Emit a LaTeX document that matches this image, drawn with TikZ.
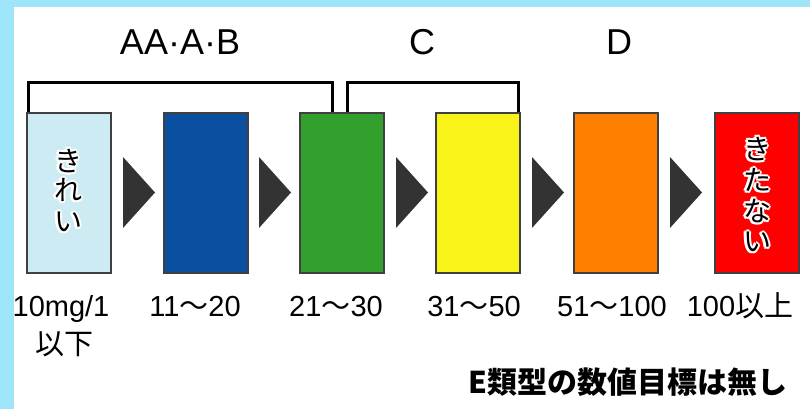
\documentclass[tikz,border=0pt]{standalone}
\usepackage{fontspec}
\setmainfont{Liberation Sans}
\newfontfamily\jp{Noto Sans CJK JP}
\definecolor{bgblue}{HTML}{9FE5FA}
\definecolor{c1}{HTML}{CCEBF3}
\definecolor{c2}{HTML}{0B50A0}
\definecolor{c3}{HTML}{31A02D}
\definecolor{c4}{HTML}{F8F41A}
\definecolor{c5}{HTML}{FF8000}
\definecolor{c6}{HTML}{FF0000}
\definecolor{tri}{HTML}{333333}
\tikzset{
  bar/.style={draw=black!75, line width=1.6pt, minimum width=84pt, minimum height=160pt, inner sep=0pt, anchor=north west},
  arrowtri/.style={fill=tri},
  bracket/.style={draw=black, line width=3pt},
  toplabel/.style={font=\fontsize{36}{40}\selectfont, anchor=base, inner sep=0pt},
  numlabel/.style={font=\fontsize{29}{34}\selectfont, anchor=base, inner sep=0pt},
  vch/.style={font=\jp\fontsize{28}{30}\selectfont, inner sep=0pt},
  note/.style={font=\jp\bfseries\fontsize{30}{34}\selectfont, anchor=base west, inner sep=0pt}
}
\newcommand\vchar[4]{%
  \foreach \a in {0,45,...,315}{\node[vch,text=white,shift={(\a:2.2)}] at (#2,#3) {#4};}
  \node[vch] (#1) at (#2,#3) {#4};}
\begin{document}
\begin{tikzpicture}[x=1pt,y=-1pt]
\useasboundingbox (0,0) rectangle (810,409);
\fill[bgblue] (0,0) rectangle (810,409);
\fill[white] (14,7) rectangle (810,409);
% bars
\node[bar,fill=c1] (b1) at (26,112) {};
\node[bar,fill=c2] (b2) at (163,112) {};
\node[bar,fill=c3] (b3) at (299,112) {};
\node[bar,fill=c4] (b4) at (435,112) {};
\node[bar,fill=c5] (b5) at (573,112) {};
\node[bar,fill=c6] (b6) at (714,112) {};
% triangles
\fill[arrowtri] (123,157) -- (155,192.5) -- (123,228) -- cycle;
\fill[arrowtri] (259,157) -- (291,192.5) -- (259,228) -- cycle;
\fill[arrowtri] (396,157) -- (428,192.5) -- (396,228) -- cycle;
\fill[arrowtri] (532,157) -- (564,192.5) -- (532,228) -- cycle;
\fill[arrowtri] (670,157) -- (702,192.5) -- (670,228) -- cycle;
% brackets
\coordinate (l1) at (28,112);
\coordinate (l2) at (332,112);
\coordinate (r1) at (347,112);
\coordinate (r2) at (518,112);
\draw[bracket] (l1) -- ++(0,-29) -| (l2);
\draw[bracket] (r1) -- ++(0,-29) -| (r2);
% top labels
\node[toplabel] (lab1) at (180,55) {AA·A·B};
\node[toplabel] (lab2) at (422,55) {C};
\node[toplabel] (lab3) at (619,55) {D};
% vertical texts
\vchar{k1}{68}{161}{き}
\vchar{k2}{68}{190}{れ}
\vchar{k3}{68}{222}{い}
\vchar{t1}{757}{149}{き}
\vchar{t2}{757}{180}{た}
\vchar{t3}{757}{211}{な}
\vchar{t4}{757}{242}{い}
% bottom labels
\node[numlabel] (n1) at (61,316) {10mg/1};
\node[numlabel] (n1b) at (64,354) {\jp 以下};
\node[numlabel] (n2) at (195,316) {11{\jp ～}20};
\node[numlabel] (n3) at (336,316) {21{\jp ～}30};
\node[numlabel] (n4) at (474,316) {31{\jp ～}50};
\node[numlabel] (n5) at (612,316) {51{\jp ～}100};
\node[numlabel] (n6) at (740,316) {100{\jp 以上}};
\node[note] (e) at (468,393) {E類型の数値目標は無し};
\end{tikzpicture}
\end{document}
